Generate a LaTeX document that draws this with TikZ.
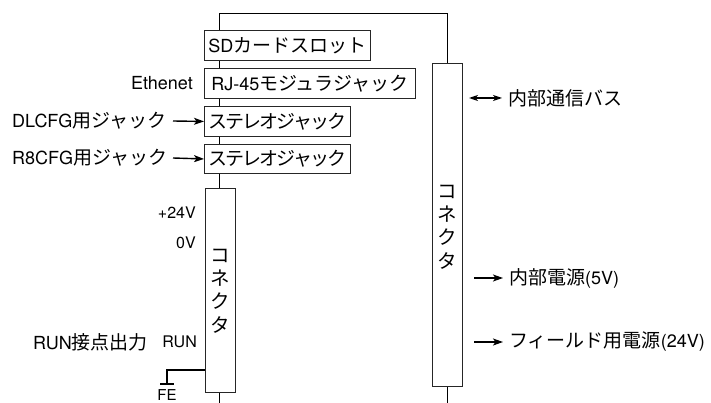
\documentclass[tikz,border=0pt]{standalone}
\usepackage{fontspec}
\setmainfont{TeX Gyre Heros}
\newfontfamily\jp{Noto Sans CJK JP}
\newfontfamily\jpc[LetterSpace=-10]{Noto Sans CJK JP}
\usetikzlibrary{arrows.meta}
\begin{document}
\begin{tikzpicture}[x=1pt,y=-1pt,
  box/.style={draw=black!85,line width=0.9pt,fill=white,anchor=north west,inner xsep=4pt,inner ysep=0pt,align=left,font=\fontsize{18}{20}\selectfont},
  lab/.style={inner sep=0pt,font=\fontsize{18}{20}\selectfont},
  small/.style={inner sep=0pt,font=\fontsize{16}{18}\selectfont},
  vtxt/.style={inner sep=0pt,align=center,font=\fontsize{19.5}{23.2}\selectfont\jp},
  wire/.style={line width=0.8pt},
  arr/.style={line width=1.4pt,-{Stealth[length=10pt,width=7pt,inset=2.5pt]}},
  darr/.style={line width=1.2pt,{Stealth[length=9pt,width=6pt,inset=2.5pt]}-{Stealth[length=9pt,width=6pt,inset=2.5pt]}}
]
\useasboundingbox (0,0) rectangle (711,403);

% wiring backbone
\coordinate (ltop) at (219,13);
\coordinate (lbot) at (219,403);
\coordinate (rbot) at (447,403);
\draw[wire] (lbot) -- (ltop) -| (447,63);
\draw[wire] (447,386) -- (rbot);

% right connector
\node[draw=black!85,line width=0.9pt,fill=white,minimum width=30pt,minimum height=323pt,anchor=north west,inner sep=0pt] (rc) at (432,63) {};
\node[vtxt] (rct) at (447,227) {コ\\ネ\\ク\\タ};

% left connector
\node[draw=black!85,line width=0.9pt,fill=white,minimum width=30pt,minimum height=204pt,anchor=north west,inner sep=0pt] (lc) at (205,188) {};
\node[vtxt] (lct) at (220,291) {コ\\ネ\\ク\\タ};

% boxes
\node[box,minimum width=166pt,minimum height=30pt] (sd) at (204,30) {SD{\fontsize{19}{20}\selectfont\jp カードスロット}};
\node[box,minimum width=211pt,minimum height=30pt] (rj) at (204,68) {RJ-45{\fontsize{19}{20}\selectfont\jp モジュラジャック}};
\node[box,minimum width=144pt,minimum height=30pt] (st1) at (204,106) {{\fontsize{19}{20}\selectfont\jpc ステレオジャック}};
\node[box,minimum width=144pt,minimum height=29pt] (st2) at (204,144) {{\fontsize{19}{20}\selectfont\jpc ステレオジャック}};

% left labels
\node[lab,anchor=east] (eth) at (193,83) {Ethenet};
\node[lab,anchor=west] (dl) at (12,121) {DLCFG{\fontsize{19}{20}\selectfont\jp 用ジャック}};
\node[lab,anchor=west] (r8) at (12,158) {R8CFG{\fontsize{19}{20}\selectfont\jp 用ジャック}};
\draw[arr] (173,121) -- (st1.west);
\draw[arr] (173,158) -- (st2.west);

\node[small,anchor=east] (p24) at (196,213) {+24V};
\node[small,anchor=east] (z0) at (196,243) {0V};
\node[small,anchor=east] (run) at (197,342) {RUN};
\node[lab,anchor=west] (runl) at (33,342) {RUN{\fontsize{19}{20}\selectfont\jp 接点出力}};

% FE
\coordinate (fe1) at (167,370);
\coordinate (fe2) at (167,384);
\draw[line width=1.3pt] (lc.west |- fe1) -- (fe1) -- (fe2);
\draw[line width=1.3pt] (160,384) -- (174,384);
\node[small,anchor=base,font=\fontsize{15}{17}\selectfont] (fe) at (167,400) {FE};

% right labels
\node[lab,anchor=west] (bus) at (508,98) {\fontsize{19}{20}\selectfont\jp 内部通信バス};
\coordinate (bus0) at (469,98);
\draw[darr] (bus0) -- (502,98);
\node[lab,anchor=west] (p5) at (509,278) {{\fontsize{19}{20}\selectfont\jp 内部電源}(5V)};
\coordinate (p50) at (474,278);
\draw[arr] (p50) -- (503,278);
\node[lab,anchor=west] (fld) at (509,342) {{\fontsize{19}{20}\selectfont\jp フィールド用電源}(24V)};
\coordinate (fld0) at (474,342);
\draw[arr] (fld0) -- (503,342);
\end{tikzpicture}
\end{document}
